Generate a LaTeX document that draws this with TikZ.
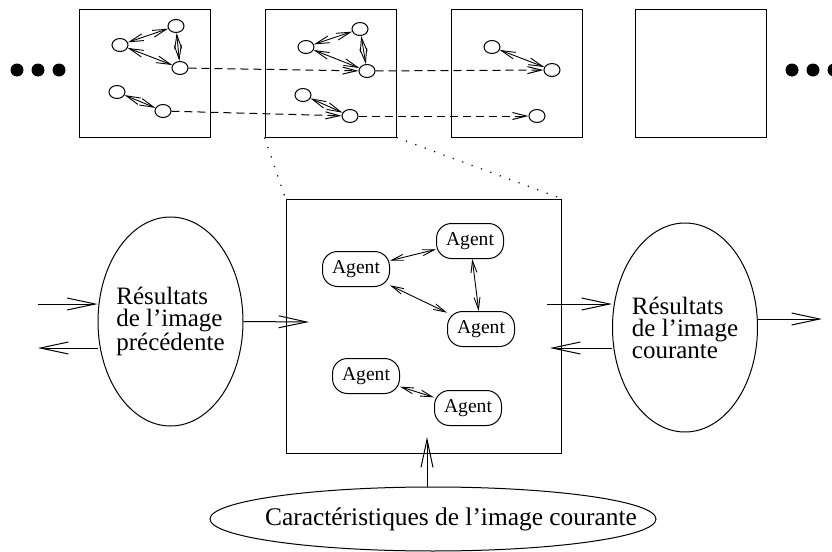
\documentclass[tikz,border=0pt]{standalone}
\usepackage{fontspec}
\setmainfont{Liberation Serif}
\usetikzlibrary{arrows.meta,shapes.geometric}

\tikzset{
    frame/.style={draw, line width=0.5pt, minimum width=65.5pt, minimum height=64pt},
    blob/.style={draw, ellipse, line width=0.5pt, minimum width=8pt, minimum height=6.5pt, inner sep=0pt},
    agent/.style={draw, line width=0.5pt, rounded corners=7.5pt, minimum width=33.5pt, minimum height=17.5pt, inner sep=0pt, font=\fontsize{9.8}{11}\selectfont},
    resultat/.style={draw, ellipse, line width=0.5pt, minimum width=72.5pt, minimum height=104.5pt, inner xsep=-4pt, inner ysep=0pt, align=left, font=\fontsize{12.5}{11}\selectfont},
    bigarrow/.style={line width=0.5pt, -{Straight Barb[length=14pt,width=6pt]}},
    agentarrow/.style={line width=0.45pt, {Straight Barb[length=6pt,width=3pt]}-{Straight Barb[length=6pt,width=3pt]}},
    tinyarrow/.style={line width=0.45pt, {Straight Barb[length=7pt,width=3.5pt]}-{Straight Barb[length=7pt,width=3.5pt]}},
    suivi/.style={line width=0.5pt, dash pattern=on 4pt off 2.5pt, -{Straight Barb[length=7pt,width=3.5pt]}},
    zoomline/.style={line width=0.6pt, dash pattern=on 0.6pt off 4.4pt}
}

\begin{document}
\begin{tikzpicture}[x=0.5pt,y=-0.5pt]
    \useasboundingbox (0,0) rectangle (832,552);

    % sequence of images
    \foreach \n/\x in {1/145,2/330.5,3/516.5,4/701}
        \node[frame] (f\n) at (\x,73) {};
    \foreach \x in {17,38,59,792,813,834}
        \fill (\x,70) circle (3.25pt);

    \node[blob] (a1) at (120,45) {};
    \node[blob] (b1) at (176,26) {};
    \node[blob] (c1) at (180,68) {};
    \node[blob] (d1) at (117,92) {};
    \node[blob] (e1) at (163,111) {};
    \node[blob] (a2) at (306,47) {};
    \node[blob] (b2) at (360,29) {};
    \node[blob] (c2) at (367,71) {};
    \node[blob] (d2) at (303,95) {};
    \node[blob] (e2) at (350,116) {};
    \node[blob] (a3) at (492,47) {};
    \node[blob] (c3) at (552,70) {};
    \node[blob] (e3) at (537,116) {};

    \draw[tinyarrow] (a1) -- (b1);
    \draw[tinyarrow] (a1) -- (c1);
    \draw[tinyarrow] (b1) -- (c1);
    \draw[tinyarrow] (d1) -- (e1);
    \draw[tinyarrow] (a2) -- (b2);
    \draw[tinyarrow] (a2) -- (c2);
    \draw[tinyarrow] (b2) -- (c2);
    \draw[tinyarrow] (d2) -- (e2);
    \draw[tinyarrow] (a3) -- (c3);

    \draw[suivi] (c1) -- (c2);
    \draw[suivi] (c2) -- (c3);
    \draw[suivi] (e1) -- (e2);
    \draw[suivi] (e2) -- (e3);

    % current image
    \node[frame, minimum width=137.5pt, minimum height=127pt] (scene) at (423.5,326) {};
    \draw[zoomline] (f2.south west) -- (scene.north west);
    \draw[zoomline] (f2.south east) -- (scene.north east);

    \node[agent] (ag1) at (356,269) {Agent};
    \node[agent] (ag2) at (470,241) {Agent};
    \node[agent] (ag3) at (481,329) {Agent};
    \node[agent] (ag4) at (366,376) {Agent};
    \node[agent] (ag5) at (468,408) {Agent};
    \draw[agentarrow] (ag1) -- (ag2);
    \draw[agentarrow] (ag1) -- (ag3);
    \draw[agentarrow] (ag2) -- (ag3);
    \draw[agentarrow] (ag4) -- (ag5);

    % results
    \node[resultat] (prev) at (170.5,321.5) {Résultats\\de l’image\\précédente};
    \node[resultat] (cur) at (685,327.5) {Résultats\\de l’image\\courante};
    \node[draw, ellipse, line width=0.5pt, minimum width=223pt, minimum height=32pt, inner xsep=-24pt, inner ysep=0pt, font=\fontsize{12.7}{14}\selectfont] (feat) at (433,519) {\hspace*{18pt}Caractéristiques de l’image courante};

    \coordinate (prevIn) at (38,304);
    \coordinate (prevOut) at (38,348);
    \coordinate (boxIn) at (309,322);
    \coordinate (boxOut) at (547,304);
    \coordinate (boxBack) at (550,348);
    \coordinate (curOut) at (822,319);
    \coordinate (featIn) at (427,437);

    \draw[bigarrow] (prevIn) -- (prevIn -| prev.west);
    \draw[bigarrow] (prevOut -| prev.west) -- (prevOut);
    \draw[bigarrow] (prev.east) -- (boxIn);
    \draw[bigarrow] (boxOut) -- (boxOut -| cur.west);
    \draw[bigarrow] (boxBack -| cur.west) -- (boxBack);
    \draw[bigarrow] (cur.east |- curOut) -- (curOut);
    \draw[bigarrow] (featIn |- feat.north) -- (featIn);
\end{tikzpicture}
\end{document}
